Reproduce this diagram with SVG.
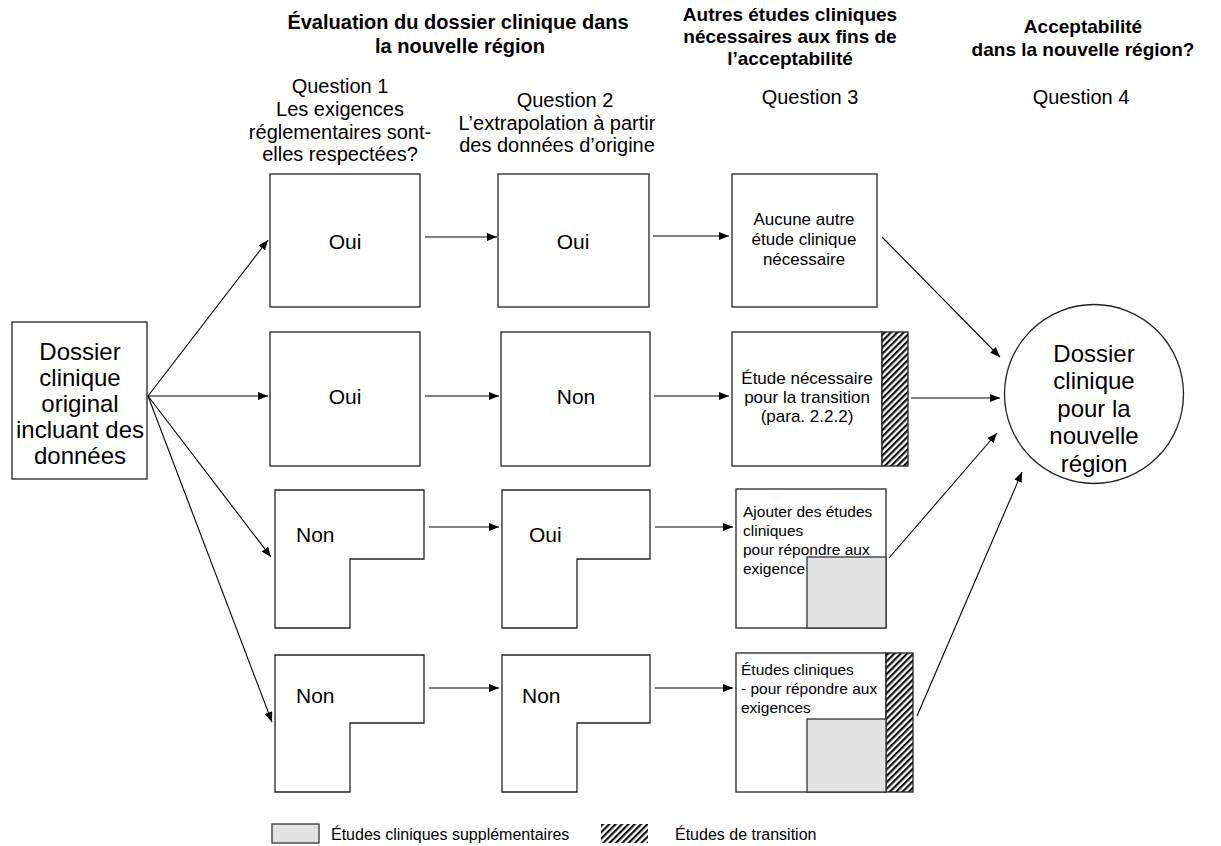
<svg xmlns="http://www.w3.org/2000/svg" width="1221" height="846" viewBox="0 0 1221 846">
<defs>
<pattern id="hatch" patternUnits="userSpaceOnUse" width="4.5" height="4.5" patternTransform="rotate(45)">
<rect width="4.5" height="4.5" fill="#fff"/>
<rect width="2.2" height="4.5" fill="#111"/>
</pattern>
<marker id="arr" markerWidth="10" markerHeight="8" refX="10" refY="4" orient="auto" markerUnits="userSpaceOnUse">
<path d="M0,0 L10,4 L0,8 z" fill="#000"/>
</marker>
</defs>
<style>
text{font-family:"Liberation Sans",Arial,sans-serif;fill:#000}
.h{font-size:20px;font-weight:bold;text-anchor:middle}
.h2{font-size:19px;font-weight:bold;text-anchor:middle}
.q{font-size:20px;text-anchor:middle}
.b{fill:#fff;stroke:#222;stroke-width:1.3}
.g{fill:#e2e2e2;stroke:#333;stroke-width:1.3}
.ht{fill:url(#hatch);stroke:#222;stroke-width:1.3}
.big{font-size:24px;text-anchor:middle}
.yn{font-size:21px}
.s{font-size:15.5px}
.sc{font-size:17px;text-anchor:middle}
.c line{stroke:#000;stroke-width:1.1;marker-end:url(#arr)}
</style>
<rect width="1221" height="846" fill="#fff"/>

<g id="headers">
<text class="h" x="458" y="29">Évaluation du dossier clinique dans</text>
<text class="h" x="460" y="53">la nouvelle région</text>
<text class="h2" x="790" y="21">Autres études cliniques</text>
<text class="h2" x="790" y="43">nécessaires aux fins de</text>
<text class="h2" x="790" y="65">l’acceptabilité</text>
<text class="h2" x="1083" y="33">Acceptabilité</text>
<text class="h2" x="1083" y="56">dans la nouvelle région?</text>
<text class="q" x="340" y="93">Question 1</text>
<text class="q" x="340" y="116">Les exigences</text>
<text class="q" x="340" y="139">réglementaires sont-</text>
<text class="q" x="340" y="161">elles respectées?</text>
<text class="q" x="565" y="107">Question 2</text>
<text class="q" x="557" y="130">L’extrapolation à partir</text>
<text class="q" x="557" y="152">des données d’origine</text>
<text class="q" x="810" y="104">Question 3</text>
<text class="q" x="1081" y="104">Question 4</text>
</g>

<g id="source">
<rect class="b" x="12" y="322" width="135" height="157"/>
<text class="big" x="80" y="360">Dossier</text>
<text class="big" x="80" y="386">clinique</text>
<text class="big" x="80" y="412">original</text>
<text class="big" x="80" y="438">incluant des</text>
<text class="big" x="80" y="464">données</text>
</g>

<g id="r1c1"><rect class="b" x="270" y="174" width="150" height="133"/><text class="yn" x="345" y="249" text-anchor="middle">Oui</text></g>
<g id="r1c2"><rect class="b" x="498" y="174" width="151" height="133"/><text class="yn" x="573" y="249" text-anchor="middle">Oui</text></g>
<g id="r1c3"><rect class="b" x="732" y="174" width="145" height="133"/>
<text class="sc" x="804" y="225">Aucune autre</text>
<text class="sc" x="804" y="245">étude clinique</text>
<text class="sc" x="804" y="265">nécessaire</text></g>

<g id="r2c1"><rect class="b" x="270" y="332" width="150" height="134"/><text class="yn" x="345" y="404" text-anchor="middle">Oui</text></g>
<g id="r2c2"><rect class="b" x="501" y="332" width="149" height="134"/><text class="yn" x="576" y="404" text-anchor="middle">Non</text></g>
<g id="r2c3"><rect class="b" x="732" y="332" width="150" height="134"/><rect class="ht" x="882" y="332" width="26" height="134"/>
<text class="sc" x="807" y="384">Étude nécessaire</text>
<text class="sc" x="807" y="403">pour la transition</text>
<text class="sc" x="807" y="422">(para. 2.2.2)</text></g>

<g id="r3c1"><path class="b" d="M275,490 H424 V559 H350 V628 H275 Z"/><text class="yn" x="296" y="542">Non</text></g>
<g id="r3c2"><path class="b" d="M502,490 H650 V559 H577 V628 H502 Z"/><text class="yn" x="529" y="542">Oui</text></g>
<g id="r3c3"><rect class="b" x="736" y="489" width="150" height="139"/>
<text class="s" x="743" y="517">Ajouter des études</text>
<text class="s" x="743" y="536">cliniques</text>
<text class="s" x="743" y="555">pour répondre aux</text>
<text class="s" x="743" y="574">exigence</text>
<rect class="g" x="807" y="557" width="79" height="71"/></g>

<g id="r4c1"><path class="b" d="M275,655 H424 V723 H350 V792 H275 Z"/><text class="yn" x="296" y="703">Non</text></g>
<g id="r4c2"><path class="b" d="M502,655 H650 V723 H577 V792 H502 Z"/><text class="yn" x="522" y="703">Non</text></g>
<g id="r4c3"><rect class="b" x="736" y="653" width="150" height="139"/><rect class="ht" x="886" y="653" width="27" height="139"/>
<text class="s" x="741" y="675">Études cliniques</text>
<text class="s" x="741" y="694">- pour répondre aux</text>
<text class="s" x="741" y="713">exigences</text>
<rect class="g" x="807" y="719" width="79" height="73"/></g>

<g id="target">
<circle cx="1094" cy="394" r="89.5" fill="#fff" stroke="#222" stroke-width="1.3"/>
<text class="big" x="1094" y="362">Dossier</text>
<text class="big" x="1094" y="389">clinique</text>
<text class="big" x="1094" y="417">pour la</text>
<text class="big" x="1094" y="444">nouvelle</text>
<text class="big" x="1094" y="472">région</text>
</g>

<g id="connectors" class="c">
<line x1="148" y1="396" x2="268" y2="240"/>
<line x1="148" y1="396" x2="268" y2="396"/>
<line x1="148" y1="396" x2="271" y2="557"/>
<line x1="148" y1="396" x2="272" y2="722"/>
<line x1="425" y1="237" x2="497" y2="237"/>
<line x1="653" y1="236" x2="729" y2="236"/>
<line x1="425" y1="396" x2="499" y2="396"/>
<line x1="654" y1="396" x2="729" y2="396"/>
<line x1="429" y1="527" x2="499" y2="527"/>
<line x1="655" y1="527" x2="733" y2="527"/>
<line x1="429" y1="688" x2="499" y2="688"/>
<line x1="655" y1="688" x2="733" y2="688"/>
<line x1="882" y1="237" x2="1000" y2="357"/>
<line x1="911" y1="398" x2="1000" y2="398"/>
<line x1="889" y1="558" x2="997" y2="433"/>
<line x1="917" y1="716" x2="1022" y2="472"/>
</g>

<g id="legend">
<rect class="g" x="272" y="824" width="47" height="19"/>
<text x="331" y="840" style="font-size:16px">Études cliniques supplémentaires</text>
<rect x="601" y="824" width="47" height="19" fill="url(#hatch)"/>
<text x="675" y="840" style="font-size:16px">Études de transition</text>
</g>
</svg>
